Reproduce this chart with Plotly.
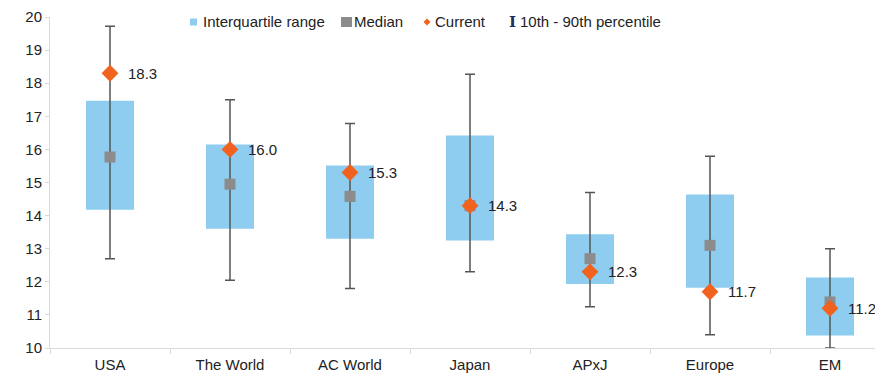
import plotly.graph_objects as go

categories = ["USA", "The World", "AC World", "Japan", "APxJ", "Europe", "EM"]
p10 = [12.7, 12.05, 11.8, 12.3, 11.25, 10.4, 10.0]
q1 = [14.18, 13.6, 13.3, 13.25, 11.93, 11.82, 10.38]
median = [15.77, 14.95, 14.58, 14.3, 12.7, 13.1, 11.39]
q3 = [17.47, 16.15, 15.51, 16.42, 13.44, 14.64, 12.13]
p90 = [19.72, 17.5, 16.78, 18.27, 14.7, 15.79, 13.0]
current = [18.3, 16.0, 15.3, 14.3, 12.3, 11.7, 11.2]
y_ticks = list(range(10, 21))

BLUE = "#8ECDF0"
GREY = "#8C8C8C"
ORANGE = "#F0621E"
WHISK = "#555555"
FONT = "Liberation Sans, Arial, sans-serif"

OFF = 8  # page body margin
W, H = 883 - OFF, 374 - OFF
ML, MR, MT, MB = 50 - OFF, 0, 17 - OFF, 26

fig = go.Figure()
fig.add_trace(go.Bar(
    x=categories, y=[b - a for a, b in zip(q1, q3)], base=q1, width=0.4,
    marker=dict(color=BLUE, line=dict(width=0)), showlegend=False, hoverinfo="skip"))
fig.add_trace(go.Scatter(
    x=categories, y=median, mode="markers",
    marker=dict(size=0.1, opacity=0),
    error_y=dict(type="data", symmetric=False,
                 array=[b - m for m, b in zip(median, p90)],
                 arrayminus=[m - a for m, a in zip(median, p10)],
                 color=WHISK, thickness=1.5, width=5),
    showlegend=False, hoverinfo="skip"))
fig.add_trace(go.Scatter(
    x=categories, y=median, mode="markers",
    marker=dict(symbol="square", size=11, color=GREY), showlegend=False))
fig.add_trace(go.Scatter(
    x=categories, y=current, mode="markers",
    marker=dict(symbol="diamond", size=13, color=ORANGE), showlegend=False))

for c, v in zip(categories, current):
    fig.add_annotation(x=c, y=v, text=f"{v:.1f}", showarrow=False,
                       xanchor="left", yanchor="middle", xshift=16,
                       font=dict(family=FONT, size=15, color="#222222"))

# custom legend (reference pixel -> paper)
pw = W - ML - MR
ph = H - MT - MB
def px(x):
    return (x - OFF - ML) / pw
def py(y):
    return (H - MB - (y - OFF)) / ph

ly = 22
fig.add_shape(type="rect", xref="paper", yref="paper",
              x0=px(190), x1=px(197), y0=py(ly + 3.5), y1=py(ly - 3.5),
              fillcolor=BLUE, line=dict(width=0))
fig.add_shape(type="rect", xref="paper", yref="paper",
              x0=px(341), x1=px(352), y0=py(ly + 5), y1=py(ly - 5),
              fillcolor=GREY, line=dict(width=0))
fig.add_shape(type="path", xref="paper", yref="paper",
              path=f"M {px(423.5)},{py(ly)} L {px(427)},{py(ly-3.5)} L {px(430.5)},{py(ly)} L {px(427)},{py(ly+3.5)} Z",
              fillcolor=ORANGE, line=dict(width=0))
legend_items = [(201, "Interquartile range"), (352, "Median"), (433, "Current"),
                (518, "10th - 90th percentile")]
for x0, t in legend_items:
    fig.add_annotation(x=px(x0), y=py(ly), xref="paper", yref="paper", text=t,
                       showarrow=False, xanchor="left", yanchor="middle",
                       font=dict(family=FONT, size=15, color="#222222"))
fig.add_annotation(x=px(518), y=py(ly), xref="paper", yref="paper", text="<b>I</b>",
                   showarrow=False, xanchor="right", yanchor="middle",
                   font=dict(family="DejaVu Serif", size=15, color="#1F2F5C"))

fig.update_layout(
    width=W, height=H, margin=dict(l=ML, r=MR, t=MT, b=MB, autoexpand=False),
    paper_bgcolor="white", plot_bgcolor="white",
    font=dict(family=FONT, size=15, color="#222222"),
    bargap=0.6,
)
fig.update_xaxes(range=[-0.5, -0.5 + pw / 120.0], showgrid=False,
                 showline=True, linecolor="#D9D9D9", linewidth=1,
                 ticks="outside", tickson="boundaries", ticklen=5, tickcolor="#D9D9D9",
                 ticklabelstandoff=3,
                 tickfont=dict(size=15, color="#222222"))
fig.update_yaxes(range=[10, 20], tickvals=y_ticks, showgrid=False, zeroline=False,
                 showline=True, linecolor="#D9D9D9", linewidth=1,
                 ticks="outside", ticklen=4, tickcolor="#D9D9D9",
                 tickfont=dict(size=15, color="#222222"))

fig.write_html("out.html")
